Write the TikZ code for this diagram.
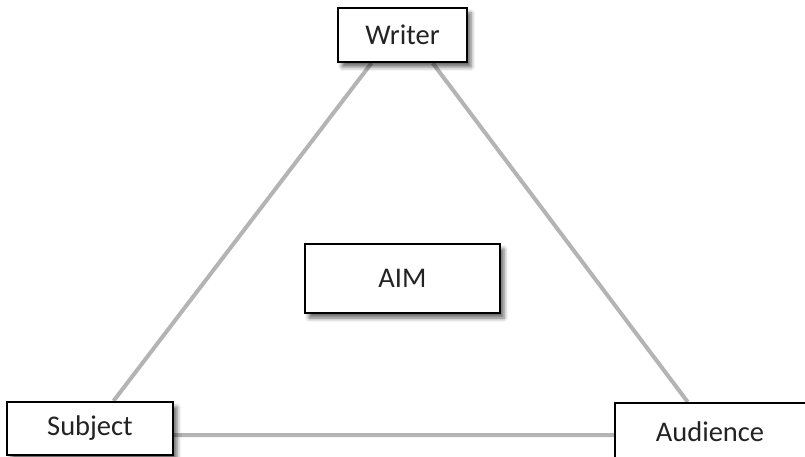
\documentclass[tikz,border=0pt]{standalone}
\usepackage{fontspec}
\setmainfont{Carlito}
\usetikzlibrary{shadows.blur,calc,backgrounds}
\definecolor{linegray}{RGB}{180,180,180}
\definecolor{txtgray}{RGB}{35,35,35}
\tikzset{
  box/.style={draw=black, line width=2pt, fill=white, rectangle, inner sep=0pt,
    text=txtgray, font=\fontsize{28.5}{32}\selectfont,
    blur shadow={shadow xshift=4pt, shadow yshift=-5pt, shadow blur radius=4pt, shadow opacity=60}},
  link/.style={draw=linegray, line width=4pt}
}
\begin{document}
\begin{tikzpicture}[x=1pt,y=-1pt]
\useasboundingbox (0,0) rectangle (805,457);
\node[box, minimum width=129pt, minimum height=54pt] (W) at (402.5,35) {Writer};
\node[box, minimum width=166pt, minimum height=53pt] (S) at (90,428.5) {Subject};
\node[box, minimum width=195pt, minimum height=69pt] (A) at (402.5,278.5) {AIM};
\node[box, minimum width=200pt, minimum height=58pt] (U) at (715,432) {\hspace*{-10pt}Audience};
\begin{pgfonlayer}{background}
\draw[link] ($(W.south west)!0.264!(W.south east)$) -- ($(S.north west)!0.64!(S.north east)$);
\draw[link] ($(W.south west)!0.73!(W.south east)$) -- ($(U.north west)!0.365!(U.north east)$);
\draw[link] ($(S.north east)!0.62!(S.south east)$) -- ($(U.north west)!0.55!(U.south west)$);
\end{pgfonlayer}
\end{tikzpicture}
\end{document}
